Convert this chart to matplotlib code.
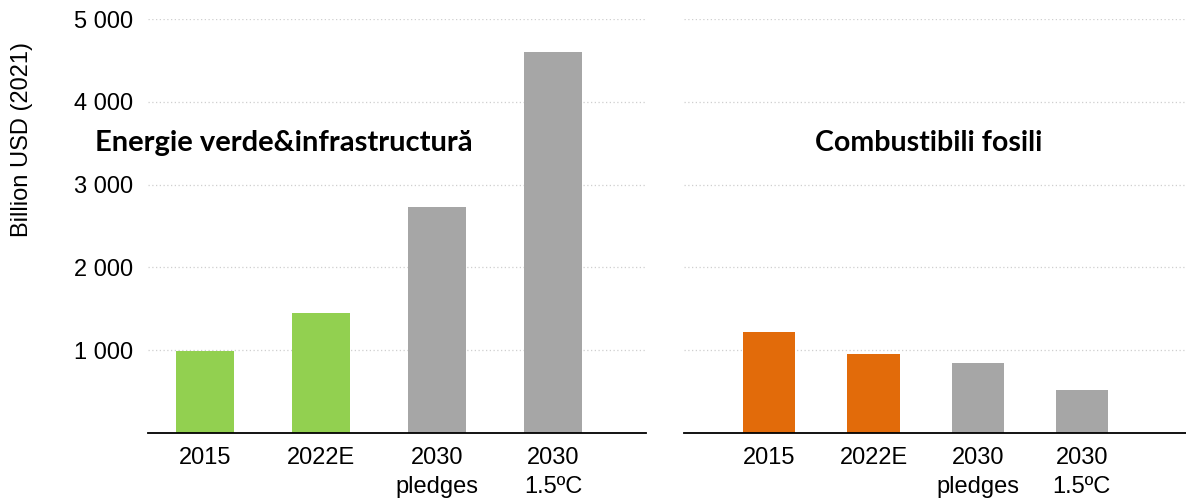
import matplotlib.pyplot as plt

plt.rcParams["font.family"] = ["Liberation Sans", "DejaVu Sans"]

categories = ["2015", "2022E", "2030\npledges", "2030\n1.5ºC"]
green_values = [990, 1445, 2730, 4600]
fossil_values = [1215, 950, 845, 520]
green_colors = ["#92D050", "#92D050", "#A6A6A6", "#A6A6A6"]
fossil_colors = ["#E26B0A", "#E26B0A", "#A6A6A6", "#A6A6A6"]
y_ticks = [1000, 2000, 3000, 4000, 5000]

fig = plt.figure(figsize=(11.86, 4.98), dpi=100)
ax1 = fig.add_axes([0.1248, 0.1305, 0.42, 0.831])
ax2 = fig.add_axes([0.5767, 0.1305, 0.4233, 0.831])


def style(ax, values, colors, xlim):
    x = range(len(values))
    ax.bar(x, values, width=0.5, color=colors, zorder=2)
    ax.set_xlim(*xlim)
    ax.set_ylim(0, 5000)
    ax.set_yticks(y_ticks)
    ax.set_xticks(list(x))
    ax.set_xticklabels(categories, fontsize=17, linespacing=1.4)
    ax.grid(axis="y", color="#CFCFCF", linestyle=(0, (1, 2)), linewidth=0.9, zorder=0)
    for side in ["top", "right", "left"]:
        ax.spines[side].set_visible(False)
    ax.spines["bottom"].set_color("black")
    ax.spines["bottom"].set_linewidth(1.3)
    ax.tick_params(axis="x", length=0, pad=10)
    ax.tick_params(axis="y", length=0, pad=11, labelsize=17)


style(ax1, green_values, green_colors, (-0.49, 3.8))
style(ax2, fossil_values, fossil_colors, (-0.82, 4.0))

ax1.set_yticklabels([f"{v:,}".replace(",", " ") for v in y_ticks])
ax2.set_yticklabels([])

fig.text(0.0185, 0.72, "Billion USD (2021)", rotation=90, ha="center", va="center", fontsize=17)
fig.text(0.08, 0.713, "Energie verde&infrastructură", ha="left", va="center",
         fontsize=21, fontweight="bold", family=["Lato", "DejaVu Sans"])
fig.text(0.783, 0.713, "Combustibili fosili", ha="center", va="center",
         fontsize=20.5, fontweight="bold", family=["Lato", "DejaVu Sans"])

fig.savefig("out.png", dpi=100)
